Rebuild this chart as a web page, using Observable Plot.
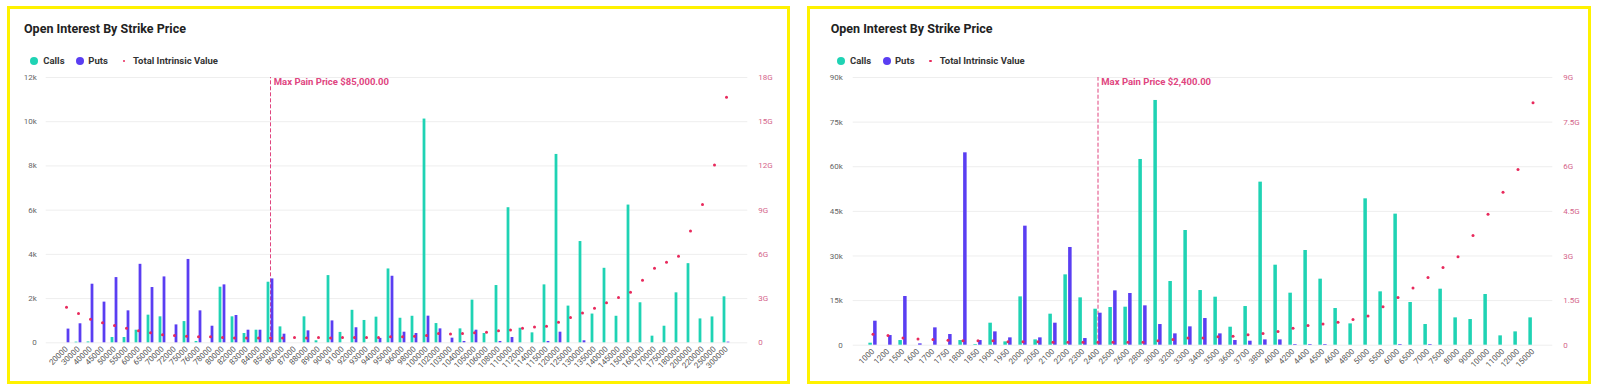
<!DOCTYPE html>
<html><head><meta charset="utf-8">
<script src="https://cdn.jsdelivr.net/npm/d3@7"></script>
<script src="https://cdn.jsdelivr.net/npm/@observablehq/plot@0.6"></script>
<style>
body{margin:0;width:1600px;height:392px;background:#fff;position:relative;overflow:hidden;font-family:Roboto,sans-serif;}
.panel{position:absolute;box-sizing:border-box;border:3px solid #FFF200;}
.title{position:absolute;font-size:12.5px;font-weight:700;color:#222;line-height:1;white-space:nowrap;}
.leg{position:absolute;font-size:9.5px;font-weight:700;color:#333;line-height:1;white-space:nowrap;}
.sw{position:absolute;border-radius:50%;}
.chart{position:absolute;}
</style></head><body>
<script>
// ---------- DATA ----------
const btcStrikes = [20000,30000,40000,45000,50000,55000,60000,65000,70000,72000,75000,76000,78000,80000,82000,83000,84000,85000,86000,87000,88000,89000,90000,91000,92000,93000,94000,95000,96000,98000,100000,102000,103000,104000,105000,106000,108000,110000,112000,114000,115000,120000,125000,130000,135000,140000,145000,150000,160000,170000,175000,180000,200000,220000,250000,300000];
const btcCalls = [0,30,40,0,240,240,570,1250,1175,0,960,60,0,2515,1175,420,570,2740,720,0,1175,90,3040,470,1470,1010,1160,3340,1110,1200,10120,870,0,630,1930,420,2590,6110,660,450,2620,8520,1660,4580,1300,3370,1200,6230,1810,300,750,2260,3580,1080,1170,2080];
const btcPuts = [620,860,2650,1840,2950,1445,3550,2500,2980,810,3770,1445,750,2620,1235,570,570,2890,390,0,540,0,990,0,680,0,200,3010,480,420,1205,630,210,60,570,0,60,240,0,0,60,480,0,90,0,0,0,0,0,0,0,0,0,0,0,30];
const btcIntrinsicG = [2.42,1.99,1.6,1.36,1.17,0.99,0.81,0.68,0.54,0.5,0.45,0.41,0.41,0.36,0.32,0.32,0.32,0.32,0.32,0.36,0.32,0.36,0.32,0.36,0.36,0.36,0.36,0.41,0.41,0.45,0.5,0.63,0.59,0.63,0.68,0.72,0.81,0.86,0.99,1.08,1.13,1.4,1.72,2.03,2.35,2.71,3.07,3.43,4.24,5.06,5.46,5.87,7.59,9.39,12.06,16.66];
const btcLeftTicks = [0,2000,4000,6000,8000,10000,12000];
const btcLeftLabels = ["0","2k","4k","6k","8k","10k","12k"];
const btcRightLabels = ["0","3G","6G","9G","12G","15G","18G"];
const btcMaxPain = 85000;

const ethStrikes = [1000,1200,1500,1600,1700,1750,1800,1850,1900,1950,2000,2050,2100,2200,2300,2400,2500,2600,2800,3000,3200,3300,3400,3500,3600,3700,3800,4000,4200,4400,4500,4600,4800,5000,5500,6000,6500,7000,7500,8000,9000,10000,11000,12000,15000];
const ethCalls = [670,0,1570,0,0,0,1570,220,7400,1120,16250,1790,10430,23650,15920,12100,12670,12780,62440,82280,21410,38560,18380,16140,6050,13000,54820,26900,17490,31840,22200,12330,7170,49210,17940,44060,14350,6950,18830,9190,8630,17040,3140,4480,9190];
const ethPuts = [8070,3250,16370,450,5830,3590,64680,1570,4480,2470,40020,2470,7400,32850,2240,10760,18270,17380,13230,6950,3810,6170,8970,3810,1570,1345,1790,1790,220,220,220,0,0,0,0,220,0,220,0,0,0,0,0,0,0];
const ethIntrinsicG = [0.37,0.33,0.24,0.21,0.19,0.17,0.15,0.15,0.15,0.12,0.12,0.12,0.1,0.1,0.1,0.1,0.1,0.1,0.1,0.15,0.19,0.24,0.24,0.28,0.3,0.35,0.39,0.46,0.57,0.66,0.71,0.77,0.86,0.98,1.29,1.6,1.92,2.28,2.61,2.97,3.69,4.4,5.14,5.91,8.15];
const ethLeftTicks = [0,15000,30000,45000,60000,75000,90000];
const ethLeftLabels = ["0","15k","30k","45k","60k","75k","90k"];
const ethRightLabels = ["0","1.5G","3G","4.5G","6G","7.5G","9G"];
const ethMaxPain = 2400;

const TITLE = "Open Interest By Strike Price";
const TEAL = "#1fd3b4", PURPLE = "#5a3ef2", DOT = "#e8295c", PINK = "#e0457f", AXISPINK = "#d4648a";

// ---------- BUILD ----------
function el(tag, cls, css, text) {
  const e = document.createElement(tag);
  if (cls) e.className = cls;
  Object.assign(e.style, css);
  if (text != null) e.textContent = text;
  document.body.appendChild(e);
  return e;
}

function panel(o) {
  el("div", "panel", {left: o.box[0]+"px", top: o.box[1]+"px", width: o.box[2]+"px", height: o.box[3]+"px"});
  el("div", "title", {left: o.tx+"px", top: "22.8px"}, TITLE);
  const lx = o.tx + 10.3;
  el("div", "sw", {left: (lx-4.2)+"px", top: "56.8px", width: "8.4px", height: "8.4px", background: TEAL});
  el("div", "leg", {left: (lx+9)+"px", top: "56px"}, "Calls");
  el("div", "sw", {left: (lx+45.7-4.2)+"px", top: "56.8px", width: "8.4px", height: "8.4px", background: PURPLE});
  el("div", "leg", {left: (lx+54)+"px", top: "56px"}, "Puts");
  el("div", "sw", {left: (lx+89.7-1.4)+"px", top: "59.6px", width: "2.8px", height: "2.8px", background: DOT});
  el("div", "leg", {left: (lx+98.7)+"px", top: "56px"}, "Total Intrinsic Value");

  const k = o.ymax / o.gmax;
  const rows = o.strikes.map((s, i) => ({strike: String(s), calls: o.calls[i], puts: o.puts[i], iv: o.iv[i] * k}));
  const half = o.half, bw = o.bw, gap = o.gap;
  const svg = Plot.plot({
    width: o.w, height: o.h,
    marginLeft: o.ml, marginRight: o.mr, marginTop: o.mt, marginBottom: o.mb,
    style: {fontFamily: "Roboto, sans-serif", fontSize: "8px", background: "transparent", overflow: "visible"},
    x: {type: "band", domain: rows.map(d => d.strike), padding: 0, label: null},
    y: {domain: [0, o.ymax], label: null},
    marks: [
      Plot.ruleY(o.ticks, {stroke: "#eeeeee", strokeWidth: 1}),
      Plot.axisY({anchor: "left", label: null, ticks: o.ticks, tickFormat: d => o.leftLabels[o.ticks.indexOf(d)], tickSize: 0, tickPadding: o.lpad, fill: "#666", fontSize: 8}),
      Plot.axisY({anchor: "right", label: null, ticks: o.ticks, tickFormat: d => o.rightLabels[o.ticks.indexOf(d)], tickSize: 0, tickPadding: o.rpad, fill: AXISPINK, fontSize: 8, textAnchor: "start"}),
      Plot.axisX({label: null, tickRotate: -45, tickSize: 0, tickPadding: 5, fill: "#555", fontSize: 8, textAnchor: "end", lineAnchor: "middle"}),
      Plot.ruleX([String(o.maxPain)], {x: d => d, y1: 0, y2: o.ymax, stroke: PINK, strokeWidth: 1, strokeDasharray: "4,2"}),
      Plot.barY(rows, {x: "strike", y: "calls", fill: TEAL, insetLeft: half - gap - bw, insetRight: half + gap}),
      Plot.barY(rows, {x: "strike", y: "puts", fill: PURPLE, insetLeft: half + gap, insetRight: half - gap - bw}),
      Plot.dot(rows, {x: "strike", y: "iv", r: 1.5, fill: DOT}),
      Plot.text([String(o.maxPain)], {x: d => d, y: o.ymax, text: () => o.label, dx: 3.3, dy: 4, textAnchor: "start", lineAnchor: "middle", fill: PINK, fontWeight: "bold", fontSize: 9.5})
    ]
  });
  svg.classList.add("chart");
  svg.style.left = o.sx + "px";
  svg.style.top = o.sy + "px";
  document.body.appendChild(svg);
}

panel({
  box: [7, 6, 783, 378], tx: 24,
  strikes: btcStrikes, calls: btcCalls, puts: btcPuts, iv: btcIntrinsicG,
  ticks: btcLeftTicks, leftLabels: btcLeftLabels, rightLabels: btcRightLabels,
  ymax: 12000, gmax: 18, maxPain: btcMaxPain, label: "Max Pain Price $85,000.00",
  sx: 10, sy: 70, w: 775, h: 310, ml: 35.7, mr: 37.7, mt: 7, mb: 37.7,
  lpad: 9.5, rpad: 10.5, half: 12.53/2, bw: 3.3, gap: 0.35
});
panel({
  box: [807, 6, 784, 378], tx: 830.7,
  strikes: ethStrikes, calls: ethCalls, puts: ethPuts, iv: ethIntrinsicG,
  ticks: ethLeftTicks, leftLabels: ethLeftLabels, rightLabels: ethRightLabels,
  ymax: 90000, gmax: 9, maxPain: ethMaxPain, label: "Max Pain Price $2,400.00",
  sx: 812, sy: 70, w: 778, h: 310, ml: 40.7, mr: 37.7, mt: 7, mb: 35.3,
  lpad: 10.4, rpad: 10.4, half: 15.545/2, bw: 4.05, gap: 0.35
});
</script>
</body></html>
